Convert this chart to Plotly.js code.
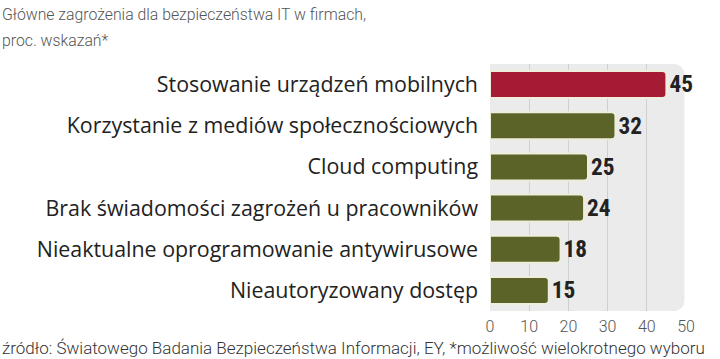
<!DOCTYPE html>
<html>
<head>
<meta charset="utf-8">
<script src="https://cdn.plot.ly/plotly-3.0.1.min.js"></script>
<style>html,body{margin:0;padding:0;background:#fff;}#chart{width:720px;height:359px;}</style>
</head>
<body>
<div id="chart"></div>
<script>
const categories = [
  "Stosowanie urządzeń mobilnych",
  "Korzystanie z mediów społecznościowych",
  "Cloud computing",
  "Brak świadomości zagrożeń u pracowników",
  "Nieaktualne oprogramowanie antywirusowe",
  "Nieautoryzowany dostęp"
];
const values = [45, 32, 25, 24, 18, 15];
const barColors = ["#a51b33", "#5b6328", "#5b6328", "#5b6328", "#5b6328", "#5b6328"];
const tickVals = [0, 10, 20, 30, 40, 50];
const titleLines = ["Główne zagrożenia dla bezpieczeństwa IT w firmach,", "proc. wskazań*"];
const sourceText = "źródło: Światowego Badania Bezpieczeństwa Informacji, EY, *możliwość wielokrotnego wyboru";

const trace = {
  type: "bar",
  orientation: "h",
  x: values,
  y: categories,
  text: values.map(String),
  textposition: "outside",
  cliponaxis: false,
  textfont: {family: "Liberation Sans Narrow, Roboto Condensed, Roboto, sans-serif", size: 25, color: "#222", weight: 700},
  marker: {color: barColors, line: {color: "#efeddb", width: 2}},
  hoverinfo: "none"
};

const rx = 3, ry = 0.05;
const x0 = -2.2, x1 = 49.6;
const panelPath = `M ${x0} 0 L ${x1 - rx} 0 Q ${x1} 0 ${x1} ${ry} L ${x1} ${1 - ry} Q ${x1} 1 ${x1 - rx} 1 L ${x0} 1 Z`;

const titleFont = {family: "Roboto, sans-serif", size: 15.8, color: "#555", weight: 300};

const layout = {
  width: 720, height: 359,
  margin: {l: 490, r: 34, t: 64, b: 48},
  paper_bgcolor: "#fff",
  plot_bgcolor: "rgba(0,0,0,0)",
  showlegend: false,
  bargap: 0.345,
  barcornerradius: 4,
  xaxis: {
    range: [0, 50],
    tickvals: tickVals,
    showgrid: true,
    gridcolor: "#cfcfcf",
    gridwidth: 1,
    zeroline: false,
    showline: false,
    ticks: "",
    ticklabelstandoff: 4,
    tickfont: {family: "Roboto, sans-serif", size: 16, color: "#555", weight: 300},
    fixedrange: true
  },
  yaxis: {
    autorange: "reversed",
    ticks: "",
    showline: false,
    showgrid: false,
    ticklabelstandoff: 11,
    tickfont: {family: "Open Sans, sans-serif", size: 21.4, color: "#222", weight: 400},
    fixedrange: true
  },
  shapes: [{
    type: "path", xref: "x", yref: "paper", path: panelPath,
    fillcolor: "#ebebeb", line: {width: 0}, layer: "below"
  }],
  annotations: [{
    text: titleLines[0],
    xref: "paper", yref: "paper",
    x: -2.5, xanchor: "left", y: 1.202, yanchor: "middle",
    showarrow: false, font: titleFont
  }, {
    text: titleLines[1],
    xref: "paper", yref: "paper",
    x: -2.5, xanchor: "left", y: 1.097, yanchor: "middle",
    showarrow: false, font: titleFont
  }, {
    text: sourceText,
    xref: "paper", yref: "paper",
    x: -2.5, xanchor: "left", y: -0.15, yanchor: "middle",
    showarrow: false,
    font: {family: "Roboto, sans-serif", size: 17, color: "#333", weight: 300}
  }]
};

Plotly.newPlot("chart", [trace], layout, {displayModeBar: false, staticPlot: true});
</script>
</body>
</html>
